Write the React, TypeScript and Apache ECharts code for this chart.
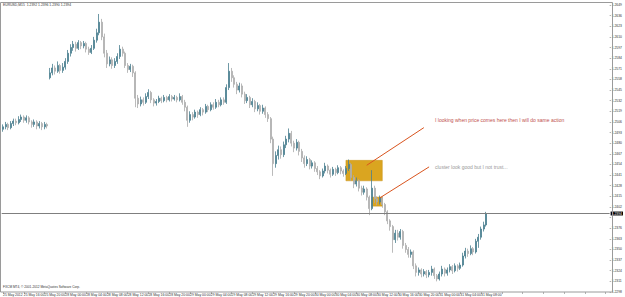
import React, { useEffect, useRef } from 'react';
import * as echarts from 'echarts';

const symbolTitle = 'EURUSD,M15';
const headerQuote = ['1.2392', '1.2396', '1.2390', '1.2394'];
const brokerNote = 'FXCM MT4, © 2001-2012 MetaQuotes Software Corp.';

const timeLabels = [
  '25 May 2012', '25 May 16:00', '25 May 20:00', '28 May 00:00', '28 May 04:00', '28 May 08:00',
  '28 May 12:00', '28 May 16:00', '28 May 20:00', '29 May 00:00', '29 May 04:00', '29 May 08:00',
  '29 May 12:00', '29 May 16:00', '29 May 20:00', '30 May 00:00', '30 May 04:00', '30 May 08:00',
  '30 May 12:00', '30 May 16:00', '30 May 20:00', '31 May 00:00', '31 May 04:00', '31 May 08:00',
];
const barsPerLabel = 8;
const totalSlots = 234;

// [open, close, low, high]
const ohlc: number[][] = [
  [1.2497, 1.2500, 1.2494, 1.2503], [1.2500, 1.2503, 1.2497, 1.2506], [1.2503, 1.2499, 1.2496, 1.2505],
  [1.2499, 1.2504, 1.2497, 1.2507], [1.2504, 1.2507, 1.2501, 1.2510], [1.2507, 1.2505, 1.2502, 1.2510],
  [1.2505, 1.2509, 1.2503, 1.2513], [1.2509, 1.2512, 1.2506, 1.2515], [1.2512, 1.2508, 1.2505, 1.2514],
  [1.2508, 1.2511, 1.2505, 1.2514], [1.2511, 1.2506, 1.2503, 1.2513], [1.2506, 1.2503, 1.2499, 1.2508],
  [1.2503, 1.2506, 1.2500, 1.2509], [1.2506, 1.2501, 1.2497, 1.2508], [1.2501, 1.2504, 1.2498, 1.2507],
  [1.2504, 1.2500, 1.2496, 1.2506], [1.2500, 1.2503, 1.2497, 1.2506], [1.2503, 1.2501, 1.2498, 1.2505],
  [1.2560, 1.2566, 1.2558, 1.2572], [1.2566, 1.2572, 1.2563, 1.2577], [1.2572, 1.2568, 1.2564, 1.2575],
  [1.2568, 1.2575, 1.2566, 1.2580], [1.2575, 1.2569, 1.2565, 1.2577], [1.2569, 1.2573, 1.2566, 1.2578],
  [1.2573, 1.2580, 1.2570, 1.2584], [1.2580, 1.2590, 1.2577, 1.2594], [1.2590, 1.2597, 1.2586, 1.2601],
  [1.2597, 1.2601, 1.2593, 1.2605], [1.2601, 1.2596, 1.2592, 1.2604], [1.2596, 1.2603, 1.2594, 1.2606],
  [1.2603, 1.2599, 1.2595, 1.2605], [1.2599, 1.2602, 1.2596, 1.2605], [1.2602, 1.2595, 1.2591, 1.2604],
  [1.2595, 1.2591, 1.2588, 1.2598], [1.2591, 1.2596, 1.2589, 1.2600], [1.2596, 1.2606, 1.2594, 1.2610],
  [1.2606, 1.2615, 1.2603, 1.2620], [1.2615, 1.2628, 1.2612, 1.2638], [1.2628, 1.2610, 1.2606, 1.2632],
  [1.2610, 1.2590, 1.2585, 1.2614], [1.2590, 1.2577, 1.2572, 1.2594], [1.2577, 1.2582, 1.2574, 1.2586],
  [1.2582, 1.2575, 1.2571, 1.2585], [1.2575, 1.2580, 1.2572, 1.2584], [1.2580, 1.2586, 1.2577, 1.2590],
  [1.2586, 1.2595, 1.2583, 1.2600], [1.2595, 1.2590, 1.2586, 1.2598], [1.2590, 1.2575, 1.2572, 1.2592],
  [1.2575, 1.2570, 1.2566, 1.2578], [1.2570, 1.2574, 1.2567, 1.2577], [1.2574, 1.2566, 1.2561, 1.2576],
  [1.2566, 1.2535, 1.2524, 1.2568], [1.2535, 1.2528, 1.2523, 1.2539], [1.2528, 1.2533, 1.2525, 1.2537],
  [1.2533, 1.2530, 1.2526, 1.2536], [1.2530, 1.2537, 1.2528, 1.2541], [1.2537, 1.2542, 1.2534, 1.2546],
  [1.2542, 1.2533, 1.2529, 1.2544], [1.2533, 1.2529, 1.2525, 1.2535], [1.2529, 1.2531, 1.2526, 1.2534],
  [1.2531, 1.2535, 1.2529, 1.2538], [1.2535, 1.2532, 1.2529, 1.2537], [1.2532, 1.2536, 1.2530, 1.2539],
  [1.2536, 1.2533, 1.2530, 1.2538], [1.2533, 1.2537, 1.2531, 1.2540], [1.2537, 1.2534, 1.2531, 1.2539],
  [1.2534, 1.2536, 1.2532, 1.2539], [1.2536, 1.2533, 1.2530, 1.2538], [1.2533, 1.2537, 1.2531, 1.2541],
  [1.2537, 1.2530, 1.2527, 1.2539], [1.2530, 1.2524, 1.2519, 1.2533], [1.2524, 1.2508, 1.2500, 1.2526],
  [1.2508, 1.2515, 1.2505, 1.2519], [1.2515, 1.2512, 1.2508, 1.2518], [1.2512, 1.2518, 1.2510, 1.2521],
  [1.2518, 1.2515, 1.2511, 1.2520], [1.2515, 1.2521, 1.2513, 1.2524], [1.2521, 1.2518, 1.2514, 1.2523],
  [1.2518, 1.2525, 1.2516, 1.2528], [1.2525, 1.2521, 1.2518, 1.2527], [1.2521, 1.2527, 1.2519, 1.2530],
  [1.2527, 1.2524, 1.2521, 1.2530], [1.2524, 1.2530, 1.2522, 1.2534], [1.2530, 1.2527, 1.2524, 1.2533],
  [1.2527, 1.2533, 1.2525, 1.2536], [1.2533, 1.2530, 1.2527, 1.2536], [1.2530, 1.2548, 1.2528, 1.2552],
  [1.2548, 1.2568, 1.2545, 1.2578], [1.2568, 1.2560, 1.2555, 1.2572], [1.2560, 1.2552, 1.2548, 1.2563],
  [1.2552, 1.2545, 1.2540, 1.2555], [1.2545, 1.2550, 1.2542, 1.2554], [1.2550, 1.2540, 1.2536, 1.2553],
  [1.2540, 1.2532, 1.2528, 1.2543], [1.2532, 1.2536, 1.2529, 1.2540], [1.2536, 1.2527, 1.2523, 1.2538],
  [1.2527, 1.2531, 1.2524, 1.2535], [1.2531, 1.2522, 1.2518, 1.2533], [1.2522, 1.2526, 1.2519, 1.2530],
  [1.2526, 1.2519, 1.2515, 1.2528], [1.2519, 1.2523, 1.2516, 1.2527], [1.2523, 1.2515, 1.2511, 1.2525],
  [1.2515, 1.2510, 1.2506, 1.2518], [1.2510, 1.2485, 1.2480, 1.2512], [1.2485, 1.2455, 1.2440, 1.2488],
  [1.2455, 1.2465, 1.2450, 1.2470], [1.2465, 1.2472, 1.2460, 1.2477], [1.2472, 1.2466, 1.2461, 1.2476],
  [1.2466, 1.2478, 1.2463, 1.2482], [1.2478, 1.2485, 1.2474, 1.2489], [1.2485, 1.2492, 1.2481, 1.2498],
  [1.2492, 1.2480, 1.2476, 1.2495], [1.2480, 1.2474, 1.2469, 1.2483], [1.2474, 1.2481, 1.2471, 1.2485],
  [1.2481, 1.2470, 1.2465, 1.2483], [1.2470, 1.2462, 1.2457, 1.2473], [1.2462, 1.2455, 1.2450, 1.2465],
  [1.2455, 1.2460, 1.2452, 1.2464], [1.2460, 1.2452, 1.2448, 1.2462], [1.2452, 1.2456, 1.2449, 1.2459],
  [1.2456, 1.2449, 1.2445, 1.2458], [1.2449, 1.2445, 1.2441, 1.2452], [1.2445, 1.2440, 1.2436, 1.2447],
  [1.2440, 1.2446, 1.2438, 1.2449], [1.2446, 1.2452, 1.2443, 1.2456], [1.2452, 1.2447, 1.2443, 1.2454],
  [1.2447, 1.2442, 1.2438, 1.2449], [1.2442, 1.2448, 1.2440, 1.2451], [1.2448, 1.2444, 1.2440, 1.2450],
  [1.2444, 1.2450, 1.2442, 1.2453], [1.2450, 1.2446, 1.2442, 1.2452], [1.2446, 1.2443, 1.2439, 1.2448],
  [1.2443, 1.2449, 1.2441, 1.2452], [1.2449, 1.2454, 1.2446, 1.2460], [1.2454, 1.2438, 1.2434, 1.2456],
  [1.2438, 1.2430, 1.2425, 1.2441], [1.2430, 1.2434, 1.2427, 1.2438], [1.2434, 1.2425, 1.2421, 1.2436],
  [1.2425, 1.2420, 1.2416, 1.2428], [1.2420, 1.2424, 1.2417, 1.2428], [1.2424, 1.2414, 1.2410, 1.2426],
  [1.2414, 1.2400, 1.2392, 1.2416], [1.2400, 1.2425, 1.2398, 1.2447], [1.2425, 1.2412, 1.2407, 1.2428],
  [1.2412, 1.2408, 1.2404, 1.2415], [1.2408, 1.2413, 1.2405, 1.2416], [1.2413, 1.2405, 1.2401, 1.2415],
  [1.2405, 1.2396, 1.2392, 1.2407], [1.2396, 1.2385, 1.2381, 1.2398], [1.2385, 1.2378, 1.2373, 1.2387],
  [1.2378, 1.2362, 1.2346, 1.2380], [1.2362, 1.2370, 1.2358, 1.2374], [1.2370, 1.2365, 1.2361, 1.2374],
  [1.2365, 1.2372, 1.2362, 1.2375], [1.2372, 1.2355, 1.2351, 1.2374], [1.2355, 1.2350, 1.2346, 1.2358],
  [1.2350, 1.2344, 1.2340, 1.2353], [1.2344, 1.2347, 1.2340, 1.2350], [1.2347, 1.2330, 1.2326, 1.2349],
  [1.2330, 1.2322, 1.2317, 1.2333], [1.2322, 1.2325, 1.2318, 1.2328], [1.2325, 1.2320, 1.2316, 1.2327],
  [1.2320, 1.2323, 1.2317, 1.2326], [1.2323, 1.2319, 1.2315, 1.2325], [1.2319, 1.2322, 1.2316, 1.2325],
  [1.2322, 1.2326, 1.2318, 1.2330], [1.2326, 1.2318, 1.2314, 1.2328], [1.2318, 1.2314, 1.2311, 1.2320],
  [1.2314, 1.2320, 1.2312, 1.2323], [1.2320, 1.2326, 1.2317, 1.2330], [1.2326, 1.2321, 1.2317, 1.2328],
  [1.2321, 1.2325, 1.2318, 1.2328], [1.2325, 1.2329, 1.2322, 1.2332], [1.2329, 1.2324, 1.2320, 1.2331],
  [1.2324, 1.2330, 1.2322, 1.2333], [1.2330, 1.2327, 1.2323, 1.2332], [1.2327, 1.2331, 1.2325, 1.2334],
  [1.2331, 1.2342, 1.2329, 1.2346], [1.2342, 1.2348, 1.2339, 1.2352], [1.2348, 1.2345, 1.2341, 1.2351],
  [1.2345, 1.2351, 1.2343, 1.2355], [1.2351, 1.2347, 1.2343, 1.2353], [1.2347, 1.2360, 1.2345, 1.2363],
  [1.2360, 1.2365, 1.2352, 1.2369], [1.2365, 1.2375, 1.2362, 1.2378], [1.2375, 1.2380, 1.2372, 1.2384],
  [1.2380, 1.2394, 1.2378, 1.2396],
];

const currentPrice = 1.2394;
const yMin = 1.2298;
const yMax = 1.2649;
const yStep = 0.0013;

// rectangles: [fromBar, toBar, topPrice, bottomPrice]
const zones = [
  [132, 146, 1.2459, 1.2434],
  [142, 146, 1.2414, 1.2403],
];
// trend lines: [bar1, price1, bar2, price2]
const trendLines = [
  [140, 1.2453, 162, 1.2499],
  [145, 1.2413, 164, 1.2451],
];
const note1 = 'I looking when price comes here then I will do same action';
const note2 = 'cluster look good but I not trust...';

const FONT = '"Liberation Sans", Arial, sans-serif';

export default function App() {
  const ref = useRef<HTMLDivElement>(null);
  useEffect(() => {
    document.body.style.margin = '0';
    const chart = echarts.init(ref.current!, undefined, { renderer: 'svg' });
    const cats = Array.from({ length: totalSlots }, (_, i) => String(i));
    chart.setOption({
      animation: false,
      backgroundColor: '#ffffff',
      textStyle: { fontFamily: FONT },
      grid: { left: 1, right: 13, top: 5, bottom: 5 },
      xAxis: {
        type: 'category',
        data: cats,
        boundaryGap: true,
        axisLine: { show: false },
        axisTick: { show: true, interval: barsPerLabel - 1, length: 2, alignWithLabel: true, lineStyle: { color: '#666', width: 0.5 } },
        axisLabel: {
          interval: barsPerLabel - 1,
          align: 'left',
          fontSize: 3.4,
          margin: 1,
          color: '#333',
          fontFamily: FONT,
          formatter: (_v: string, idx: number) => timeLabels[idx / barsPerLabel] ?? '',
        },
        splitLine: { show: false },
      },
      yAxis: {
        type: 'value',
        position: 'right',
        min: yMin,
        max: yMax,
        interval: yStep,
        axisLine: { show: false },
        axisTick: { show: true, length: 1.5, lineStyle: { color: '#666', width: 0.5 } },
        splitLine: { show: false },
        axisLabel: {
          fontSize: 3.4,
          lineHeight: 3.6,
          margin: 2,
          color: '#333',
          fontFamily: FONT,
          formatter: (v: number) => (Math.abs(v - currentPrice) < 0.0007 ? '' : v.toFixed(4)),
        },
      },
      series: [
        {
          type: 'candlestick',
          data: ohlc,
          barWidth: 1.5,
          itemStyle: {
            color: '#4a7f8f',
            color0: '#d2d2d2',
            borderColor: '#4a7f8f',
            borderColor0: '#a9a9a9',
            borderWidth: 0.8,
          },
          markArea: {
            silent: true,
            data: zones.map((z) => [
              { xAxis: z[0], yAxis: z[2] },
              { xAxis: z[1], yAxis: z[3] },
            ]),
            itemStyle: { color: '#DAA520', borderColor: '#c99318', borderWidth: 0.5, opacity: 1 },
          },
          markLine: {
            silent: true,
            precision: 4,
            symbol: ['none', 'none'],
            data: [
              {
                yAxis: currentPrice,
                lineStyle: { color: '#7f7f7f', type: 'solid', width: 1 },
                label: {
                  show: true,
                  position: 'end',
                  distance: 1,
                  formatter: currentPrice.toFixed(4),
                  backgroundColor: '#000',
                  color: '#fff',
                  fontSize: 3.4,
                  lineHeight: 3.6,
                  padding: [0.3, 1, 0, 1],
                  fontFamily: FONT,
                },
              },
              ...trendLines.map((t) => [
                { coord: [t[0], t[1]], lineStyle: { color: '#d9541e', type: 'solid', width: 1 }, label: { show: false } },
                { coord: [t[2], t[3]] },
              ]),
            ],
          },
        },
      ],
      graphic: [
        {
          type: 'rect',
          silent: true,
          z: 50,
          shape: { x: 0.5, y: 2.5, width: 612, height: 289.5 },
          style: { fill: 'none', stroke: '#9a9a9a', lineWidth: 1 },
        },
        {
          type: 'text',
          left: 3,
          top: 3,
          style: { text: `${symbolTitle}  ${headerQuote.join(' ')}`, fontSize: 3.4, fill: '#333', fontFamily: FONT },
        },
        {
          type: 'text',
          left: 3,
          top: 285,
          style: { text: brokerNote, fontSize: 3.2, fill: '#333', fontFamily: FONT },
        },
        {
          type: 'text',
          left: 435,
          top: 117,
          style: { text: note1, fontSize: 5, fill: '#c0504d', fontFamily: FONT },
        },
        {
          type: 'text',
          left: 435,
          top: 164.5,
          style: { text: note2, fontSize: 5, fill: '#999999', fontFamily: FONT },
        },
      ],
    });
    return () => chart.dispose();
  }, []);
  return <div ref={ref} style={{ position: 'fixed', left: 0, top: 0, width: 625, height: 297 }} />;
}
